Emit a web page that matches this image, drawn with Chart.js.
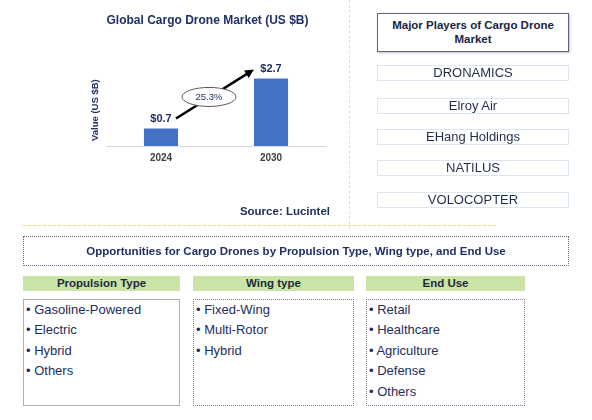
<!DOCTYPE html>
<html>
<head>
<meta charset="utf-8">
<script src="https://cdn.jsdelivr.net/npm/chart.js@4/dist/chart.umd.min.js"></script>
<style>
  body { margin: 0; width: 592px; height: 420px; background: #fff; position: relative; overflow: hidden;
         font-family: "Liberation Sans", Arial, sans-serif; color: #1f2d5a; }
  .abs { position: absolute; box-sizing: border-box; }
  #chartWrap { left: 80px; top: 0; width: 268px; height: 225px; }
  #source { left: 200px; top: 205px; width: 130px; text-align: right; font-weight: bold; font-size: 11.5px; color: #1f3064; }
  #vline { left: 349px; top: 0; height: 229px; border-left: 1px dashed #f8dd92; }
  #hline { left: 23px; top: 225px; width: 473px; border-top: 1px dashed #f5d67a; }
  #playersHead { left: 377px; top: 13px; width: 192px; height: 39px; border: 1px solid #5b6478;
                 box-shadow: 1px 1px 2px rgba(0,0,0,0.25); font-weight: bold; font-size: 11.5px;
                 line-height: 14px; text-align: center; padding-top: 4px; color: #1a2540; }
  .player { left: 377px; width: 192px; height: 16px; border: 1px solid #dce6f2; text-align: center;
            font-size: 13px; line-height: 14px; color: #1f2d4f; }
  #oppHead { left: 23px; top: 236px; width: 546px; height: 30px; border: 1px dotted #6b7080;
             text-align: center; font-weight: bold; font-size: 11.5px; line-height: 29px; color: #1f3064; }
  .green { top: 276px; height: 15px; background: #c9e4a6; text-align: center; font-weight: bold;
           font-size: 11.5px; line-height: 15px; color: #1e2a3c; }
  .list { top: 299px; height: 107px; border: 1px dotted #7b8090; padding: 0 0 0 2px; }
  .list div { font-size: 13px; line-height: 20.4px; color: #1f2d5a; }
</style>
</head>
<body>
<div id="chartWrap" class="abs"><canvas id="marketChart"></canvas></div>
<div id="source" class="abs">Source: Lucintel</div>
<div id="vline" class="abs"></div>
<div id="hline" class="abs"></div>
<div id="playersHead" class="abs">Major Players of Cargo Drone<br>Market</div>
<div id="players"></div>
<div id="oppHead" class="abs">Opportunities for Cargo Drones by Propulsion Type, Wing type, and End Use</div>
<div id="segments"></div>

<script>
// Chart data
const years = ['2024', '2030'];
const marketValues = [0.7, 2.7];
const valueLabels = ['$0.7', '$2.7'];
const cagrLabel = '25.3%';

// Side panel text
const players = ['DRONAMICS', 'Elroy Air', 'EHang Holdings', 'NATILUS', 'VOLOCOPTER'];
const segmentTitles = ['Propulsion Type', 'Wing type', 'End Use'];
const propulsionTypes = ['Gasoline-Powered', 'Electric', 'Hybrid', 'Others'];
const wingTypes = ['Fixed-Wing', 'Multi-Rotor', 'Hybrid'];
const endUses = ['Retail', 'Healthcare', 'Agriculture', 'Defense', 'Others'];

const navy = '#1f3064';
const fontFamily = '"Liberation Sans", Arial, sans-serif';

// Player boxes
const playerTops = [65, 98, 129, 160, 192];
const playersEl = document.getElementById('players');
players.forEach((name, i) => {
  const d = document.createElement('div');
  d.className = 'abs player';
  d.style.top = playerTops[i] + 'px';
  d.textContent = name;
  playersEl.appendChild(d);
});

// Segment columns
const segLists = [propulsionTypes, wingTypes, endUses];
const segCols = [[23, 157], [193, 161], [366, 159]];
const segEl = document.getElementById('segments');
segmentTitles.forEach((title, i) => {
  const h = document.createElement('div');
  h.className = 'abs green';
  h.style.left = segCols[i][0] + 'px';
  h.style.width = segCols[i][1] + 'px';
  h.textContent = title;
  segEl.appendChild(h);

  const box = document.createElement('div');
  box.className = 'abs list';
  box.style.left = segCols[i][0] + 'px';
  box.style.width = segCols[i][1] + 'px';
  if (i === 0) box.style.border = '1px solid #a9afbd';
  segLists[i].forEach(item => {
    const li = document.createElement('div');
    li.textContent = '\u2022 ' + item;
    box.appendChild(li);
  });
  segEl.appendChild(box);
});

// Value labels, growth ellipse and arrow
const annotations = {
  id: 'annotations',
  afterDraw(chart) {
    const ctx = chart.ctx;
    const bars = chart.getDatasetMeta(0).data;
    ctx.save();
    ctx.font = 'bold 11px ' + fontFamily;
    ctx.fillStyle = navy;
    ctx.textAlign = 'center';
    ctx.textBaseline = 'bottom';
    bars.forEach((bar, i) => {
      ctx.fillText(valueLabels[i], bar.x, bar.y - 4);
    });

    // arrow
    const x1 = bars[0].x + 15, y1 = bars[0].y - 10;
    const x2 = bars[1].x - 17, y2 = bars[1].y - 9;
    const ang = Math.atan2(y2 - y1, x2 - x1);
    ctx.strokeStyle = '#000';
    ctx.lineWidth = 2.5;
    ctx.beginPath();
    ctx.moveTo(x1, y1);
    ctx.lineTo(x2 - 6 * Math.cos(ang), y2 - 6 * Math.sin(ang));
    ctx.stroke();
    ctx.fillStyle = '#000';
    ctx.beginPath();
    ctx.moveTo(x2, y2);
    ctx.lineTo(x2 - 10 * Math.cos(ang - 0.45), y2 - 10 * Math.sin(ang - 0.45));
    ctx.lineTo(x2 - 10 * Math.cos(ang + 0.45), y2 - 10 * Math.sin(ang + 0.45));
    ctx.closePath();
    ctx.fill();

    // ellipse with growth rate
    const cx = (x1 + x2) / 2 - 6, cy = (y1 + y2) / 2 + 3;
    ctx.beginPath();
    ctx.ellipse(cx, cy, 27, 9.5, 0, 0, Math.PI * 2);
    ctx.fillStyle = '#fff';
    ctx.fill();
    ctx.lineWidth = 1;
    ctx.strokeStyle = '#595959';
    ctx.stroke();
    ctx.fillStyle = navy;
    ctx.font = '9.5px ' + fontFamily;
    ctx.textBaseline = 'middle';
    ctx.fillText(cagrLabel, cx, cy + 0.5);
    ctx.restore();
  }
};

new Chart(document.getElementById('marketChart'), {
  type: 'bar',
  data: {
    labels: years,
    datasets: [{
      data: marketValues,
      backgroundColor: '#4472c4',
      categoryPercentage: 1,
      barPercentage: 0.31
    }]
  },
  options: {
    responsive: true,
    maintainAspectRatio: false,
    animation: false,
    layout: { padding: { left: 9, right: 22, top: 0, bottom: 0 } },
    scales: {
      x: {
        grid: { display: false, drawTicks: false },
        border: { display: true, color: '#d9d9d9', width: 1 },
        ticks: { color: '#404040', padding: 6, font: { size: 10, weight: 'bold', family: fontFamily } },
        afterFit: scale => { scale.height = 79; }
      },
      y: {
        min: 0,
        max: 2.86,
        grid: { display: false, drawTicks: false },
        border: { display: false },
        ticks: { display: false },
        title: {
          display: true,
          text: 'Value (US $B)',
          color: navy,
          padding: { top: 1, bottom: 0 },
          font: { size: 9.5, weight: 'bold', family: fontFamily }
        },
        afterFit: scale => { scale.width = 17; }
      }
    },
    plugins: {
      legend: { display: false },
      tooltip: { enabled: false },
      title: {
        display: true,
        text: 'Global Cargo Drone Market (US $B)',
        color: navy,
        padding: { top: 13, bottom: 47 },
        font: { size: 12, weight: 'bold', family: fontFamily }
      }
    }
  },
  plugins: [annotations]
});
</script>
</body>
</html>
